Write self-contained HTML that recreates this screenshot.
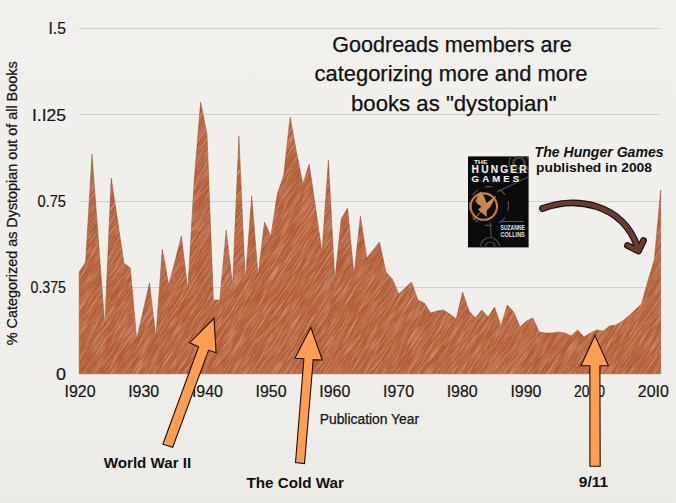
<!DOCTYPE html>
<html><head><meta charset="utf-8">
<style>
html,body{margin:0;padding:0;width:676px;height:503px;overflow:hidden;background:#efeeea;}
svg{display:block;}
.tick{font-family:"Liberation Sans",sans-serif;font-size:16.5px;fill:#151515;stroke:#151515;stroke-width:0.2px;}
.title{font-family:"Liberation Sans",sans-serif;font-size:22px;fill:#111;stroke:#111;stroke-width:0.25px;}
.lab{font-family:"Liberation Sans",sans-serif;font-size:14px;font-weight:bold;fill:#111;}
.ax{font-family:"Liberation Sans",sans-serif;font-size:14px;fill:#151515;stroke:#151515;stroke-width:0.25px;}
</style></head><body>
<svg width="676" height="503" viewBox="0 0 676 503">
<defs>
<filter id="streak" x="-600" y="-600" width="2000" height="2000" filterUnits="userSpaceOnUse">
<feTurbulence type="fractalNoise" baseFrequency="0.04 0.9" numOctaves="3" seed="11" result="n"/>
<feColorMatrix in="n" type="matrix" values="0 0 0 0 0.87  0 0 0 0 0.64  0 0 0 0 0.49  0 0 0 1.15 -0.47" result="c"/>
</filter>
<filter id="streak2" x="-600" y="-600" width="2000" height="2000" filterUnits="userSpaceOnUse">
<feTurbulence type="fractalNoise" baseFrequency="0.06 1.3" numOctaves="2" seed="23" result="n"/>
<feColorMatrix in="n" type="matrix" values="0 0 0 0 0.55  0 0 0 0 0.24  0 0 0 0 0.12  0 0 0 1.3 -0.62" result="c"/>
</filter>
<clipPath id="areaclip"><polygon points="79.2,373.8 79.2,272 85.6,262 92.0,154 98.4,240 104.8,326 111.2,178 117.5,220 123.9,263 130.3,268 136.7,339 143.1,311 149.5,283 155.9,337 162.3,249 168.7,285 175.1,261 181.4,236 187.8,290 194.2,180 200.6,102 207.0,134 213.4,300 219.8,300 226.2,230 232.6,285 238.9,136 245.3,281 251.7,196 258.1,276 264.5,222 270.9,236 277.3,194 283.7,175 290.1,117 296.5,152 302.8,184 309.2,164 315.6,208 322.0,252 328.4,160 334.8,280 341.2,219 347.6,208 354.0,275 360.4,216 366.8,258 373.1,250 379.5,242 385.9,272 392.3,279 398.7,294 405.1,288 411.5,282 417.9,300 424.3,303 430.6,313 437.0,311 443.4,310 449.8,314 456.2,319 462.6,292 469.0,311 475.4,318 481.8,310 488.2,317 494.5,307 500.9,326 507.3,305 513.7,312 520.1,327 526.5,321 532.9,318 539.3,332 545.7,333 552.1,333 558.5,332 564.8,333 571.2,336 577.6,330 584.0,337 590.4,333 596.8,330 603.2,331 609.6,326 616.0,325 622.4,321 628.7,316 635.1,310 641.5,304 647.9,281 654.3,260 660.7,190 660.7,373.8"/></clipPath>
<linearGradient id="bg" x1="0" y1="0" x2="0" y2="1"><stop offset="0" stop-color="#f1f0ed"/><stop offset="0.75" stop-color="#efeeea"/><stop offset="1" stop-color="#ebeae5"/></linearGradient>
</defs>
<rect width="676" height="503" fill="url(#bg)"/>
<line x1="79" y1="28.5" x2="660.5" y2="28.5" stroke="#cfcfcb" stroke-width="1"/>
<line x1="79" y1="114.5" x2="660.5" y2="114.5" stroke="#cfcfcb" stroke-width="1"/>
<line x1="79" y1="201.5" x2="660.5" y2="201.5" stroke="#cfcfcb" stroke-width="1"/>
<line x1="79" y1="287.5" x2="660.5" y2="287.5" stroke="#cfcfcb" stroke-width="1"/>

<polygon points="79.2,373.8 79.2,272 85.6,262 92.0,154 98.4,240 104.8,326 111.2,178 117.5,220 123.9,263 130.3,268 136.7,339 143.1,311 149.5,283 155.9,337 162.3,249 168.7,285 175.1,261 181.4,236 187.8,290 194.2,180 200.6,102 207.0,134 213.4,300 219.8,300 226.2,230 232.6,285 238.9,136 245.3,281 251.7,196 258.1,276 264.5,222 270.9,236 277.3,194 283.7,175 290.1,117 296.5,152 302.8,184 309.2,164 315.6,208 322.0,252 328.4,160 334.8,280 341.2,219 347.6,208 354.0,275 360.4,216 366.8,258 373.1,250 379.5,242 385.9,272 392.3,279 398.7,294 405.1,288 411.5,282 417.9,300 424.3,303 430.6,313 437.0,311 443.4,310 449.8,314 456.2,319 462.6,292 469.0,311 475.4,318 481.8,310 488.2,317 494.5,307 500.9,326 507.3,305 513.7,312 520.1,327 526.5,321 532.9,318 539.3,332 545.7,333 552.1,333 558.5,332 564.8,333 571.2,336 577.6,330 584.0,337 590.4,333 596.8,330 603.2,331 609.6,326 616.0,325 622.4,321 628.7,316 635.1,310 641.5,304 647.9,281 654.3,260 660.7,190 660.7,373.8" fill="#b35b35" stroke="#7a3a20" stroke-width="0.8" stroke-opacity="0.5"/>
<g clip-path="url(#areaclip)"><g transform="rotate(-52 370 240)"><rect x="-300" y="-300" width="1400" height="1100" filter="url(#streak2)"/></g><g transform="rotate(-57 370 240)"><rect x="-300" y="-300" width="1400" height="1100" filter="url(#streak)"/></g></g>
<text x="66" y="34.3" text-anchor="end" class="tick" textLength="17.5" lengthAdjust="spacingAndGlyphs">I.5</text>
<text x="66" y="120.6" text-anchor="end" class="tick" textLength="34" lengthAdjust="spacingAndGlyphs">I.I25</text>
<text x="66" y="207.0" text-anchor="end" class="tick" textLength="28.5" lengthAdjust="spacingAndGlyphs">0.75</text>
<text x="66" y="293.4" text-anchor="end" class="tick" textLength="35.5" lengthAdjust="spacingAndGlyphs">0.375</text>
<text x="66" y="379.8" text-anchor="end" class="tick" textLength="10" lengthAdjust="spacingAndGlyphs">0</text>

<text x="80.0" y="396.5" text-anchor="middle" class="tick" textLength="31" lengthAdjust="spacingAndGlyphs">I920</text>
<text x="143.7" y="396.5" text-anchor="middle" class="tick" textLength="31" lengthAdjust="spacingAndGlyphs">I930</text>
<text x="207.4" y="396.5" text-anchor="middle" class="tick" textLength="31" lengthAdjust="spacingAndGlyphs">I940</text>
<text x="271.1" y="396.5" text-anchor="middle" class="tick" textLength="31" lengthAdjust="spacingAndGlyphs">I950</text>
<text x="334.8" y="396.5" text-anchor="middle" class="tick" textLength="31" lengthAdjust="spacingAndGlyphs">I960</text>
<text x="398.5" y="396.5" text-anchor="middle" class="tick" textLength="31" lengthAdjust="spacingAndGlyphs">I970</text>
<text x="462.2" y="396.5" text-anchor="middle" class="tick" textLength="31" lengthAdjust="spacingAndGlyphs">I980</text>
<text x="525.9" y="396.5" text-anchor="middle" class="tick" textLength="31" lengthAdjust="spacingAndGlyphs">I990</text>
<text x="589.6" y="396.5" text-anchor="middle" class="tick" textLength="31" lengthAdjust="spacingAndGlyphs">2000</text>
<text x="653.3" y="396.5" text-anchor="middle" class="tick" textLength="31" lengthAdjust="spacingAndGlyphs">20I0</text>

<text class="ax" transform="translate(17,345.2) rotate(-90)" x="0" y="0" textLength="283.8" lengthAdjust="spacingAndGlyphs">% Categorized as Dystopian out of all Books</text>
<text x="319.7" y="424" class="ax" textLength="99.4" lengthAdjust="spacingAndGlyphs">Publication Year</text>
<text x="452" y="52" text-anchor="middle" class="title" textLength="239.5" lengthAdjust="spacingAndGlyphs">Goodreads members are</text>
<text x="451" y="81.3" text-anchor="middle" class="title" textLength="273" lengthAdjust="spacingAndGlyphs">categorizing more and more</text>
<text x="453.8" y="110.5" text-anchor="middle" class="title" textLength="205.5" lengthAdjust="spacingAndGlyphs">books as "dystopian"</text>
<!-- book -->
<clipPath id="cov"><rect x="468" y="156.4" width="60.6" height="91"/></clipPath>
<rect x="468" y="156.4" width="60.6" height="91" fill="#0b0b0b"/>
<g clip-path="url(#cov)">
<g fill="none" stroke="#4a4a4a" stroke-width="1.2">
<circle cx="519" cy="163" r="10"/>
<circle cx="519" cy="163" r="5.5" stroke="#3a3a3a" stroke-width="3"/>
<path d="M497,192 L528,177"/>
<circle cx="489" cy="206" r="19.5" stroke-dasharray="8,7" stroke-dashoffset="3" stroke="#4d4d4d" stroke-width="1.3"/>
<path d="M490,222 L491.5,238"/>
<circle cx="490" cy="247" r="9.5"/>
<circle cx="490" cy="247" r="5"/>
</g>
</g>
<text x="474" y="164.3" font-family="Liberation Sans" font-weight="bold" font-size="6" fill="#eeeeee" textLength="13.5" lengthAdjust="spacingAndGlyphs">THE</text>
<text x="471.6" y="173" font-family="Liberation Sans" font-weight="bold" font-size="10.2" fill="#eeeeee" textLength="55" lengthAdjust="spacing" stroke="#eeeeee" stroke-width="0.15">HUNGER</text>
<text x="471.6" y="181.9" font-family="Liberation Sans" font-weight="bold" font-size="9.6" fill="#eeeeee" textLength="47.5" lengthAdjust="spacing" stroke="#eeeeee" stroke-width="0.15">GAMES</text>
<circle cx="483.8" cy="206.6" r="13.2" fill="#0b0b0b" stroke="#c47f42" stroke-width="2.1"/>
<path d="M475.5,201 L479,193 L480.5,191.4 L484,196 L486.5,203 L493,198 L495.4,197 L491,206 L486.5,211 L487,217 L482.5,213.5 L478,209.5 L481.5,206.5 L477.5,204 Z" fill="#c98646"/>
<path d="M473.5,219.5 L496,196" stroke="#b8a080" stroke-width="0.9"/>
<rect x="500" y="221" width="24" height="1" fill="#7a4a30"/>
<text x="500.6" y="229.6" font-family="Liberation Sans" font-weight="bold" font-size="7.5" fill="#e4e4e4" textLength="24.2" lengthAdjust="spacingAndGlyphs">SUZANNE</text>
<text x="500.6" y="236.6" font-family="Liberation Sans" font-weight="bold" font-size="7.5" fill="#e4e4e4" textLength="24.2" lengthAdjust="spacingAndGlyphs">COLLINS</text>
<text x="534.6" y="157.4" class="lab" font-style="italic" textLength="129" lengthAdjust="spacingAndGlyphs">The Hunger Games</text>
<text x="536" y="171.7" class="lab" style="font-size:13.2px" textLength="116" lengthAdjust="spacingAndGlyphs">published in 2008</text>
<!-- brown arrow -->
<path d="M542.5,208.5 C575,196 622,203 637.5,247" fill="none" stroke="#111" stroke-width="6.8" stroke-linecap="round"/>
<path d="M627.5,245.5 L638.5,251 L643.5,240.5" fill="none" stroke="#111" stroke-width="6.8" stroke-linecap="round" stroke-linejoin="round"/>
<path d="M542.5,208.5 C575,196 622,203 637.5,247" fill="none" stroke="#6d3b2d" stroke-width="4.6" stroke-linecap="round"/>
<path d="M627.5,245.5 L638.5,251 L643.5,240.5" fill="none" stroke="#6d3b2d" stroke-width="4.6" stroke-linecap="round" stroke-linejoin="round"/>
<polygon points="214,318.3 216.1,352.7 208.6,350.1 172.7,447.3 162.9,444.2 198.6,346.7 189.7,342.7" fill="#ff9e50" stroke="#1a1010" stroke-width="1.1" stroke-linejoin="miter"/>
<polygon points="310.8,327.4 322.3,360 313.2,359.6 304.5,463.6 295.5,462.6 303.9,358.8 294.9,358.2" fill="#ff9e50" stroke="#1a1010" stroke-width="1.1" stroke-linejoin="miter"/>
<polygon points="594.9,335.4 608.4,365.8 599.9,365.8 600.2,466.3 589.9,466.3 589.9,365.8 580.9,365.8" fill="#ff9e50" stroke="#1a1010" stroke-width="1.1" stroke-linejoin="miter"/>
<text x="103.7" y="468" class="lab" textLength="87.6" lengthAdjust="spacingAndGlyphs">World War II</text>
<text x="246.4" y="487.6" class="lab" textLength="97.5" lengthAdjust="spacingAndGlyphs">The Cold War</text>
<text x="578.8" y="487" class="lab" textLength="29.4" lengthAdjust="spacingAndGlyphs">9/11</text>
</svg>
</body></html>
